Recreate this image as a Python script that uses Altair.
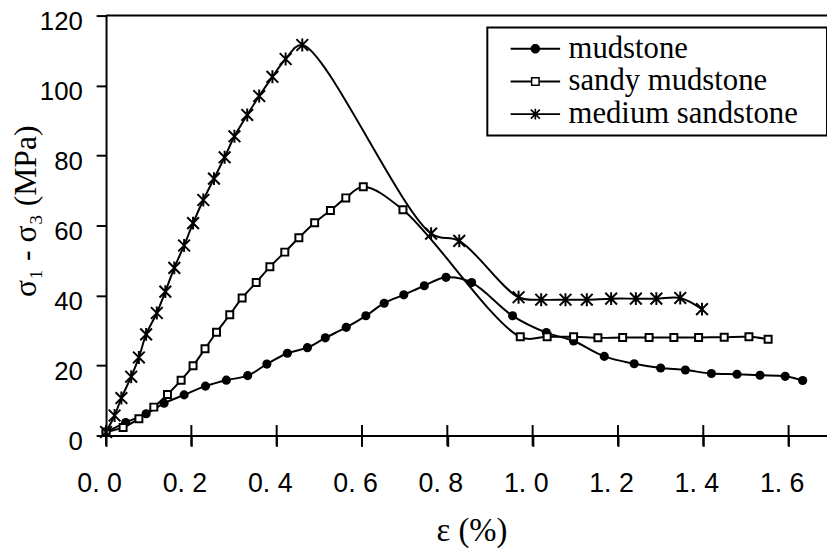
import altair as alt
import pandas as pd

series_names = ["mudstone", "sandy mudstone", "medium sandstone"]

mud_x = [0.0, 0.046, 0.094, 0.136, 0.183, 0.233, 0.282, 0.332, 0.377, 0.425, 0.472,
         0.514, 0.563, 0.609, 0.652, 0.698, 0.746, 0.797, 0.857, 0.953, 1.032,
         1.096, 1.168, 1.238, 1.300, 1.358, 1.419, 1.479, 1.533, 1.592, 1.633]
mud_y = [1.0, 3.7, 6.2, 9.2, 11.6, 14.1, 15.8, 17.1, 20.4, 23.5, 25.1,
         27.9, 30.9, 34.2, 37.8, 40.2, 42.8, 45.2, 43.7, 34.2, 29.4,
         27.0, 22.6, 20.5, 19.3, 18.7, 17.7, 17.5, 17.2, 16.9, 15.7]

sandy_x = [0.0, 0.040, 0.077, 0.112, 0.144, 0.176, 0.204, 0.232, 0.259, 0.290, 0.319,
           0.352, 0.384, 0.419, 0.452, 0.489, 0.526, 0.562, 0.603, 0.696, 0.971,
           1.034, 1.096, 1.153, 1.211, 1.273, 1.331, 1.389, 1.449, 1.507, 1.552]
sandy_y = [1.0, 2.3, 4.8, 8.1, 11.7, 15.8, 19.9, 24.8, 29.5, 34.5, 39.3,
           43.7, 48.2, 52.4, 56.5, 60.8, 64.3, 67.9, 71.1, 64.5, 28.2,
           28.2, 28.2, 27.9, 28.0, 28.0, 28.0, 28.0, 28.1, 28.2, 27.5]

med_x = [0.0, 0.020, 0.036, 0.059, 0.077, 0.094, 0.119, 0.139, 0.160, 0.183, 0.204,
         0.228, 0.253, 0.278, 0.301, 0.331, 0.359, 0.390, 0.421, 0.460, 0.762,
         0.828, 0.967, 1.020, 1.077, 1.127, 1.184, 1.242, 1.290, 1.346, 1.397]
med_y = [1.0, 5.7, 10.7, 16.8, 22.3, 28.9, 35.0, 41.1, 47.9, 54.3, 60.7,
         67.3, 73.4, 79.5, 85.5, 91.6, 97.0, 102.5, 107.6, 111.6, 57.7,
         55.6, 39.5, 38.8, 38.8, 38.8, 39.1, 39.1, 39.1, 39.3, 36.1]

x_ticks = [0.0, 0.2, 0.4, 0.6, 0.8, 1.0, 1.2, 1.4, 1.6]
x_tick_labels = ["0. 0", "0. 2", "0. 4", "0. 6", "0. 8", "1. 0", "1. 2", "1. 4", "1. 6"]
y_ticks = [0, 20, 40, 60, 80, 100, 120]

x_title = "ε (%)"
y_title = "σ₁ - σ₃ (MPa)"

rows = []
for name, xs_, ys_ in zip(series_names, [mud_x, sandy_x, med_x], [mud_y, sandy_y, med_y]):
    for a, b in zip(xs_, ys_):
        rows.append({"series": name, "strain": a, "stress": b})
df = pd.DataFrame(rows)

ticks_df = pd.DataFrame({"t": x_ticks})
top_df = pd.DataFrame({"v": [y_ticks[-1]]})

label_arr = "[" + ",".join(f"'{l}'" for l in x_tick_labels) + "]"
x_label_expr = f"{label_arr}[round(datum.value*5)]"

serif = "Liberation Serif, Times New Roman, serif"
sans = "Liberation Sans, Arial, sans-serif"

xs = alt.Scale(domain=[0, 1.69], nice=False, zero=False)
ys = alt.Scale(domain=[0, 120], nice=False)

x_axis = alt.Axis(values=x_ticks, labelExpr=x_label_expr, tickSize=11, labelPadding=25,
                  labelOffset=-7, labelFont=sans, labelFontSize=27,
                  labelFlush=False, title=x_title, titleFont=serif,
                  titleFontSize=33, titleFontWeight="normal", titleX=369, titleY=106,
                  titleBaseline="alphabetic", titleAlign="center")
y_axis = alt.Axis(values=y_ticks, tickSize=10, labelPadding=14, format="d",
                  labelOffset=6,
                  labelFont=sans, labelFontSize=26, labelFlush=False,
                  title=y_title, titleFont=serif, titleFontSize=32,
                  titleFontWeight="normal", titleAngle=270, titleX=-81, titleY=197,
                  titleAlign="center", titleBaseline="middle")

X = alt.X("strain:Q", scale=xs, axis=x_axis)
Y = alt.Y("stress:Q", scale=ys, axis=y_axis)

base = alt.Chart(df)

lines = base.mark_line(interpolate="catmull-rom", color="black", strokeWidth=2).encode(
    x=X, y=Y, detail="series:N")

mud_pts = base.transform_filter(alt.datum.series == series_names[0]).mark_point(
    shape="circle", filled=True, color="black", size=85, opacity=1).encode(x=X, y=Y)
sandy_pts = base.transform_filter(alt.datum.series == series_names[1]).mark_point(
    shape="square", filled=True, fill="white", stroke="black", strokeWidth=2,
    size=50, opacity=1).encode(x=X, y=Y)
med_pts = base.transform_filter(alt.datum.series == series_names[2]).mark_point(
    shape="M-1,-1L1,1M-1,1L1,-1M0,-1.1L0,1.1", filled=False, color="black",
    strokeWidth=2, size=140, opacity=1).encode(x=X, y=Y)

legend_paths = [
    "M-2.5,-0.1H2.5V0.1H-2.5Z M-0.48,0A0.48 0.48 0 1 1 0.48,0A0.48 0.48 0 1 1 -0.48,0Z",
    "M-2.5,-0.1H-0.45V0.1H-2.5Z M0.45,-0.1H2.5V0.1H0.45Z M-0.45,-0.45H0.45V0.45H-0.45Z M-0.3,-0.3V0.3H0.3V-0.3Z",
    "M-2.5,-0.1H2.5V0.1H-2.5Z M-0.08,-0.55H0.08V0.55H-0.08Z "
    "M-0.393,-0.507L0.507,0.393L0.393,0.507L-0.507,-0.393Z "
    "M-0.507,0.393L0.393,-0.507L0.507,-0.393L-0.393,0.507Z",
]

legend_layer = base.transform_filter("false").mark_point(
    filled=True, color="black", opacity=1).encode(
    x=X, y=Y,
    shape=alt.Shape("series:N", scale=alt.Scale(domain=series_names, range=legend_paths),
                    legend=alt.Legend(title=None, orient="none", legendX=385, legendY=12,
                                      labelExpr="datum.label + '\u00a0\u00a0\u00a0\u200b'")))

xticks_layer = alt.Chart(ticks_df).mark_tick(orient="vertical", size=21, thickness=2,
                                             color="black", opacity=1).encode(
    x=alt.X("t:Q", scale=xs), y=alt.datum(0))

top_rule = alt.Chart(top_df).mark_rule(color="black", strokeWidth=2).encode(
    y=alt.Y("v:Q", scale=ys))

chart = alt.layer(top_rule, lines, mud_pts, sandy_pts, med_pts, xticks_layer, legend_layer).properties(
    width=728, height=424,
    autosize=alt.AutoSizeParams(type="none"),
    padding={"left": 99, "top": 5, "right": 0, "bottom": 114},
).configure_view(stroke=None).configure_axis(
    domainColor="black", domainWidth=2, tickColor="black", tickWidth=2,
    labelColor="black", titleColor="black", grid=False,
).configure_legend(
    fillColor="white", strokeColor="black", strokeWidth=2, padding=6,
    labelFont=serif, labelFontSize=31, labelColor="black", labelLimit=600,
    symbolSize=400, symbolOffset=27, labelOffset=18, rowPadding=1,
    symbolFillColor="black", symbolStrokeWidth=0, symbolOpacity=1,
)

chart.save("out.html", embed_options={"renderer": "svg", "actions": False})
